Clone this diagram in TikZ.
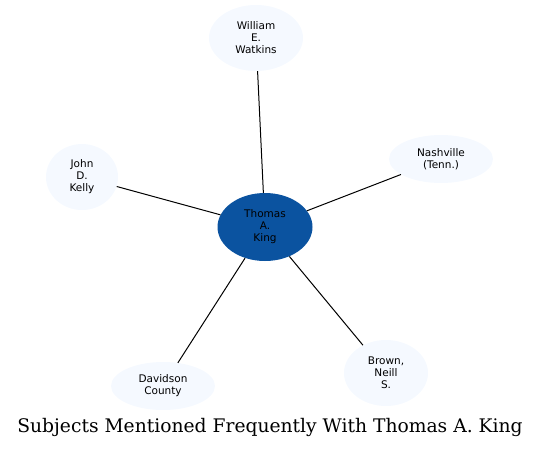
\documentclass[tikz,border=0pt]{standalone}
\usepackage{fontspec}
\setmainfont{DejaVu Serif}
\newfontfamily\nodefont{DejaVu Sans}
\usetikzlibrary{shapes.geometric}
\definecolor{hub}{RGB}{11,83,160}
\definecolor{leaf}{RGB}{245,249,255}
\tikzset{
  subj/.style={ellipse, fill=leaf, draw=none, inner sep=0pt, align=center,
    font=\nodefont\fontsize{10.5}{12}\selectfont},
  hubnode/.style={subj, fill=hub},
  link/.style={draw=black, line width=1pt}
}
\begin{document}
\begin{tikzpicture}[x=1pt,y=-1pt]
\useasboundingbox (0,0) rectangle (540,448);
\node[hubnode, minimum width=95pt, minimum height=68pt] (king) at (265,227) {Thomas\\A.\\King};
\node[subj, minimum width=94pt, minimum height=66pt] (watkins) at (256,38) {William\\E.\\Watkins};
\node[subj, minimum width=104pt, minimum height=48pt] (nash) at (441,159) {Nashville\\(Tenn.)};
\node[subj, minimum width=72pt, minimum height=66pt] (kelly) at (82,177) {John\\D.\\Kelly};
\node[subj, minimum width=104pt, minimum height=48pt] (david) at (163,386) {Davidson\\County};
\node[subj, minimum width=84pt, minimum height=66pt] (brown) at (386,373) {Brown,\\Neill\\S.};
\draw[link] (king) -- (watkins);
\draw[link] (king) -- (nash);
\draw[link] (king) -- (kelly);
\draw[link] (king) -- (david);
\draw[link] (king) -- (brown);
\node[font=\fontsize{18.7}{20}\selectfont] (title) at (270,427) {Subjects Mentioned Frequently With Thomas A. King};
\end{tikzpicture}
\end{document}
